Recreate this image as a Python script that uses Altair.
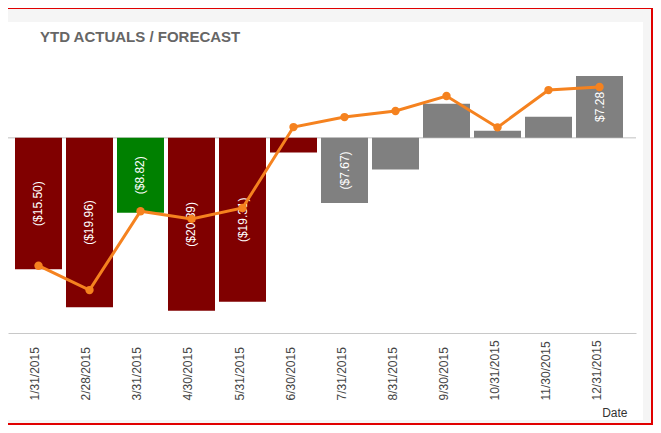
import altair as alt
import pandas as pd

dates = ["1/31/2015", "2/28/2015", "3/31/2015", "4/30/2015", "5/31/2015", "6/30/2015",
         "7/31/2015", "8/31/2015", "9/30/2015", "10/31/2015", "11/30/2015", "12/31/2015"]
actual_values = [-15.50, -19.96, -8.82, -20.39, -19.31, -1.72, -7.67, -3.72, 4.02, 0.84, 2.49, 7.28]
forecast_values = [-15.07, -17.94, -8.65, -9.55, -8.26, 1.27, 2.45, 3.16, 4.93, 1.23, 5.63, 5.99]
bar_labels = ["($15.50)", "($19.96)", "($8.82)", "($20.39)", "($19.31)", "",
              "($7.67)", "", "", "", "", "$7.28"]
bar_colors = ["#800000", "#800000", "#008000", "#800000", "#800000", "#800000",
              "#808080", "#808080", "#808080", "#808080", "#808080", "#808080"]

ORANGE = "#F5821F"

df = pd.DataFrame({
    "Date": dates,
    "Actual": actual_values,
    "Forecast": forecast_values,
    "Label": bar_labels,
    "Color": bar_colors,
})

x_enc = alt.X(
    "Date:N", sort=dates, title="Date",
    scale=alt.Scale(paddingInner=4 / 51, paddingOuter=0.196, align=0.35),
    axis=alt.Axis(
        zindex=1,
        labelAngle=270, labelAlign="left", labelBaseline="middle", labelPadding=67,
        labelOffset=-3, labelFont="Liberation Sans", labelFontSize=12, labelColor="#444444",
        labelOverlap=False, labelLimit=0,
        ticks=False, grid=False, domainColor="#c8c8c8", domainWidth=1,
        titleX=619, titleY=83, titleAlign="right", titleBaseline="alphabetic", titleAngle=0,
        titleFont="Liberation Sans", titleFontSize=12, titleFontWeight="normal", titleColor="#333333",
    ),
)
y_scale = alt.Scale(domain=[-23, 10], nice=False, zero=False)

one = alt.Data(values=[{}])

frame = alt.Chart(one).mark_rect(fill="#f5f5f5", stroke="#e00000", strokeWidth=2).encode(
    x=alt.value(-20), x2=alt.value(644), y=alt.value(-45), y2=alt.value(371)
)
panel = alt.Chart(one).mark_rect(fill="white").encode(
    x=alt.value(-6), x2=alt.value(635), y=alt.value(-31), y2=alt.value(367)
)

zero_rule = alt.Chart(one).mark_rule(color="#c0c0c0", strokeWidth=1).encode(
    y=alt.datum(0, scale=y_scale, axis=None)
)

base = alt.Chart(df)

bars = base.mark_bar().encode(
    x=x_enc,
    y=alt.Y("Actual:Q", scale=y_scale, axis=None),
    y2=alt.datum(0),
    color=alt.Color("Color:N", scale=None),
)

labels = base.transform_calculate(mid="datum.Actual / 2").mark_text(
    angle=270, color="white", font="Liberation Sans", fontSize=12,
    align="center", baseline="middle"
).encode(
    x=x_enc,
    y=alt.Y("mid:Q", scale=y_scale, axis=None),
    text="Label:N",
)

line = base.mark_line(
    color=ORANGE, strokeWidth=3,
    point=alt.OverlayMarkDef(filled=True, size=70, color=ORANGE),
).encode(
    x=x_enc,
    y=alt.Y("Forecast:Q", scale=y_scale, axis=None),
)

chart = alt.layer(frame, panel, zero_rule, bars, labels, line).properties(
    width=628, height=280,
    autosize=alt.AutoSizeParams(type="none"),
    padding={"left": 0, "top": 45, "right": 17, "bottom": 92},
    background="white",
    title=alt.TitleParams(
        "YTD ACTUALS / FORECAST", anchor="start", dx=53, dy=50, offset=0,
        baseline="alphabetic", font="Liberation Sans", fontSize=15,
        fontWeight="bold", color="#666666",
    ),
).configure_view(stroke=None)

chart.save("out.html", embed_options={"renderer": "svg", "actions": False})
